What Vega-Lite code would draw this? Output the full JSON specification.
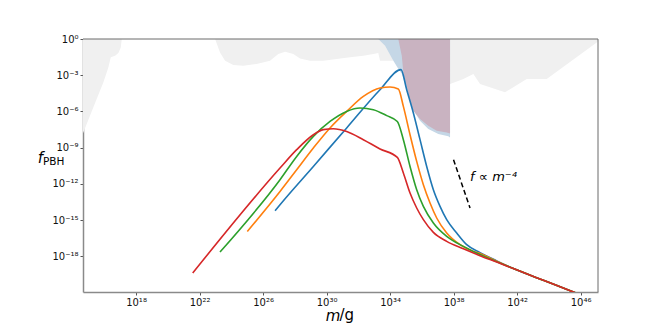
{
  "$schema": "https://vega.github.io/schema/vega-lite/v6.json",
  "width": 515,
  "height": 253,
  "autosize": {"type": "none"},
  "padding": {"left": 83, "top": 39, "right": 67, "bottom": 37},
  "background": "white",
  "config": {
    "font": "DejaVu Sans",
    "view": {"stroke": null},
    "axis": {
      "grid": false,
      "zindex": 1,
      "labelFont": "DejaVu Sans",
      "labelFontSize": 10,
      "labelColor": "#111",
      "domainColor": "#8a8a8a",
      "domainWidth": 1.5,
      "tickColor": "#555",
      "tickSize": 3,
      "labelPadding": 2,
      "titleFont": "DejaVu Sans",
      "titleFontWeight": "normal",
      "titleColor": "#000"
    }
  },
  "datasets": {
    "gray": [
      {"region": "L", "m": 3.548e14, "f": 1e-8},
      {"region": "L", "m": 4.786e14, "f": 1.82e-8},
      {"region": "L", "m": 1.259e15, "f": 4.467e-7},
      {"region": "L", "m": 3.311e15, "f": 1.072e-5},
      {"region": "L", "m": 8.71e15, "f": 2.512e-4},
      {"region": "L", "m": 1.82e16, "f": 4.467e-3},
      {"region": "L", "m": 2.57e16, "f": 0.0302},
      {"region": "L", "m": 4.786e16, "f": 0.04169},
      {"region": "L", "m": 7.762e16, "f": 0.06918},
      {"region": "L", "m": 1.096e17, "f": 0.1995},
      {"region": "L", "m": 1.259e17, "f": 1},
      {"region": "M", "m": 9.55e22, "f": 1},
      {"region": "M", "m": 1.95e23, "f": 0.0776},
      {"region": "M", "m": 4.074e23, "f": 0.01585},
      {"region": "M", "m": 1.349e24, "f": 0.007079},
      {"region": "M", "m": 5.754e24, "f": 0.006166},
      {"region": "M", "m": 3.981e25, "f": 0.008511},
      {"region": "M", "m": 2.754e26, "f": 0.01585},
      {"region": "M", "m": 9.12e26, "f": 0.05754},
      {"region": "M", "m": 2.455e27, "f": 0.08913},
      {"region": "M", "m": 8.128e27, "f": 0.05754},
      {"region": "M", "m": 2.138e28, "f": 0.02455},
      {"region": "M", "m": 9.12e28, "f": 0.01585},
      {"region": "M", "m": 6.31e29, "f": 0.01585},
      {"region": "M", "m": 4.365e30, "f": 0.02188},
      {"region": "M", "m": 3.02e31, "f": 0.0302},
      {"region": "M", "m": 2.089e32, "f": 0.04169},
      {"region": "M", "m": 8.913e32, "f": 0.05754},
      {"region": "M", "m": 1.82e33, "f": 0.06918},
      {"region": "M", "m": 2.344e33, "f": 0.01585},
      {"region": "M", "m": 1.585e34, "f": 0.01585},
      {"region": "R", "m": 3.981e37, "f": 1.862e-4},
      {"region": "R", "m": 6.026e37, "f": 1.862e-4},
      {"region": "R", "m": 4.169e38, "f": 4.898e-4},
      {"region": "R", "m": 1.778e39, "f": 1.259e-3},
      {"region": "R", "m": 4.677e39, "f": 1.862e-4},
      {"region": "R", "m": 1.738e41, "f": 3.802e-5},
      {"region": "R", "m": 4.074e42, "f": 4.898e-4},
      {"region": "R", "m": 7.413e43, "f": 4.898e-4},
      {"region": "R", "m": 1.047e47, "f": 0.5248},
      {"region": "R", "m": 1.585e47, "f": 1}
    ],
    "blue": [
      {"m": 1.82e33, "f": 1},
      {"m": 4.898e33, "f": 0.2754},
      {"m": 1.622e34, "f": 0.01585},
      {"m": 3.311e34, "f": 3.467e-3},
      {"m": 5.495e34, "f": 1.349e-3},
      {"m": 1.122e35, "f": 7.586e-5},
      {"m": 2.344e35, "f": 2.138e-6},
      {"m": 7.762e35, "f": 1.698e-7},
      {"m": 2.57e36, "f": 3.467e-8},
      {"m": 1.096e37, "f": 1.349e-8},
      {"m": 4.677e37, "f": 8.913e-9},
      {"m": 6.026e37, "f": 7.079e-9}
    ],
    "purple": [
      {"m": 3.311e34, "f": 1},
      {"m": 5.495e34, "f": 0.04169},
      {"m": 6.918e34, "f": 1.698e-3},
      {"m": 1.122e35, "f": 1.349e-4},
      {"m": 1.82e35, "f": 7.762e-6},
      {"m": 2.951e35, "f": 1.148e-6},
      {"m": 7.762e35, "f": 2.344e-7},
      {"m": 2.57e36, "f": 6.607e-8},
      {"m": 8.71e36, "f": 2.512e-8},
      {"m": 3.715e37, "f": 1.82e-8},
      {"m": 6.026e37, "f": 1.514e-8}
    ],
    "curves": [
      {"s": "s1", "m": 5.754e26, "f": 5.888e-15},
      {"s": "s1", "m": 1.175e27, "f": 1.862e-14},
      {"s": "s1", "m": 1.479e29, "f": 2.754e-11},
      {"s": "s1", "m": 1.862e31, "f": 4.266e-8},
      {"s": "s1", "m": 2.344e33, "f": 6.31e-5},
      {"s": "s1", "m": 4.898e34, "f": 2.884e-3},
      {"s": "s1", "m": 1.122e35, "f": 6.31e-5},
      {"s": "s1", "m": 2.951e35, "f": 7.413e-7},
      {"s": "s1", "m": 7.762e35, "f": 4.571e-9},
      {"s": "s1", "m": 2.042e36, "f": 2.754e-11},
      {"s": "s1", "m": 5.37e36, "f": 3.236e-13},
      {"s": "s1", "m": 1.413e37, "f": 1.349e-14},
      {"s": "s1", "m": 3.715e37, "f": 1.072e-15},
      {"s": "s1", "m": 1.585e38, "f": 8.511e-17},
      {"s": "s1", "m": 6.761e38, "f": 9.12e-18},
      {"s": "s1", "m": 4.677e39, "f": 1.995e-18},
      {"s": "s1", "m": 5.248e40, "f": 4.169e-19},
      {"s": "s1", "m": 5.888e41, "f": 9.55e-20},
      {"s": "s1", "m": 4.571e43, "f": 1.023e-20},
      {"s": "s1", "m": 3.548e45, "f": 1.096e-21},
      {"s": "s1", "m": 1.995e47, "f": 1.38e-22},
      {"s": "s2", "m": 1.023e25, "f": 1.148e-16},
      {"s": "s2", "m": 1.175e27, "f": 2.344e-13},
      {"s": "s2", "m": 1.318e28, "f": 1.479e-11},
      {"s": "s2", "m": 1.479e29, "f": 9.333e-10},
      {"s": "s2", "m": 1.66e30, "f": 4.266e-8},
      {"s": "s2", "m": 1.862e31, "f": 1e-6},
      {"s": "s2", "m": 2.089e32, "f": 1.738e-5},
      {"s": "s2", "m": 2.344e33, "f": 8.71e-5},
      {"s": "s2", "m": 1e34, "f": 1.047e-4},
      {"s": "s2", "m": 3.311e34, "f": 7.244e-5},
      {"s": "s2", "m": 6.918e34, "f": 2.63e-6},
      {"s": "s2", "m": 1.82e35, "f": 1.175e-8},
      {"s": "s2", "m": 4.786e35, "f": 7.244e-11},
      {"s": "s2", "m": 1.259e36, "f": 8.511e-13},
      {"s": "s2", "m": 3.311e36, "f": 2.57e-14},
      {"s": "s2", "m": 8.71e36, "f": 1.479e-15},
      {"s": "s2", "m": 3.715e37, "f": 8.511e-17},
      {"s": "s2", "m": 2.57e38, "f": 9.12e-18},
      {"s": "s2", "m": 1.778e39, "f": 2.512e-18},
      {"s": "s2", "m": 4.677e39, "f": 1.66e-18},
      {"s": "s2", "m": 5.248e40, "f": 3.802e-19},
      {"s": "s2", "m": 5.888e41, "f": 9.55e-20},
      {"s": "s2", "m": 4.571e43, "f": 1.023e-20},
      {"s": "s2", "m": 3.548e45, "f": 1.096e-21},
      {"s": "s2", "m": 1.995e47, "f": 1.38e-22},
      {"s": "s3", "m": 1.95e23, "f": 2.239e-18},
      {"s": "s3", "m": 1.175e27, "f": 2.188e-12},
      {"s": "s3", "m": 1.318e28, "f": 1.862e-10},
      {"s": "s3", "m": 1.479e29, "f": 8.511e-9},
      {"s": "s3", "m": 1.66e30, "f": 1.479e-7},
      {"s": "s3", "m": 1.862e31, "f": 1e-6},
      {"s": "s3", "m": 1.288e32, "f": 1.905e-6},
      {"s": "s3", "m": 8.913e32, "f": 1.38e-6},
      {"s": "s3", "m": 6.166e33, "f": 4.467e-7},
      {"s": "s3", "m": 2.884e34, "f": 1.479e-7},
      {"s": "s3", "m": 6.918e34, "f": 4.571e-9},
      {"s": "s3", "m": 1.82e35, "f": 2.754e-11},
      {"s": "s3", "m": 4.786e35, "f": 3.236e-13},
      {"s": "s3", "m": 1.259e36, "f": 1.349e-14},
      {"s": "s3", "m": 5.37e36, "f": 5.754e-16},
      {"s": "s3", "m": 3.715e37, "f": 4.467e-17},
      {"s": "s3", "m": 4.169e38, "f": 6.607e-18},
      {"s": "s3", "m": 4.677e39, "f": 1.38e-18},
      {"s": "s3", "m": 5.248e40, "f": 3.548e-19},
      {"s": "s3", "m": 5.888e41, "f": 9.55e-20},
      {"s": "s3", "m": 4.571e43, "f": 1.023e-20},
      {"s": "s3", "m": 3.548e45, "f": 1.096e-21},
      {"s": "s3", "m": 1.995e47, "f": 1.38e-22},
      {"s": "s4", "m": 3.715e21, "f": 4.074e-20},
      {"s": "s4", "m": 1.175e27, "f": 2.042e-11},
      {"s": "s4", "m": 1.318e28, "f": 6.761e-10},
      {"s": "s4", "m": 1.479e29, "f": 1.175e-8},
      {"s": "s4", "m": 6.31e29, "f": 3.09e-8},
      {"s": "s4", "m": 2.692e30, "f": 3.715e-8},
      {"s": "s4", "m": 1.862e31, "f": 2.188e-8},
      {"s": "s4", "m": 2.089e32, "f": 4.571e-9},
      {"s": "s4", "m": 2.344e33, "f": 7.762e-10},
      {"s": "s4", "m": 2.884e34, "f": 1.549e-10},
      {"s": "s4", "m": 6.918e34, "f": 7.943e-12},
      {"s": "s4", "m": 1.82e35, "f": 1.738e-13},
      {"s": "s4", "m": 4.786e35, "f": 1e-14},
      {"s": "s4", "m": 1.259e36, "f": 1.072e-15},
      {"s": "s4", "m": 5.37e36, "f": 9.55e-17},
      {"s": "s4", "m": 3.715e37, "f": 1.698e-17},
      {"s": "s4", "m": 4.169e38, "f": 4.169e-18},
      {"s": "s4", "m": 4.677e39, "f": 1.122e-18},
      {"s": "s4", "m": 5.248e40, "f": 3.311e-19},
      {"s": "s4", "m": 5.888e41, "f": 9.55e-20},
      {"s": "s4", "m": 4.571e43, "f": 1.023e-20},
      {"s": "s4", "m": 3.548e45, "f": 1.096e-21},
      {"s": "s4", "m": 1.995e47, "f": 1.38e-22}
    ],
    "dash": [
      {"m": 1e38, "f": 1e-10},
      {"m": 1.096e39, "f": 1e-14}
    ],
    "texts": [
      {"t": "PBH", "m": 1.38e12, "f": 3.631e-11, "kind": "sub"},
      {"t": "/g", "m": 6.607e30, "f": 5.495e-24, "kind": "unit"}
    ],
    "annot": [
      {"t": "f ∝ m⁻⁴", "m": 1.096e39, "f": 1.82e-12}
    ]
  },
  "layer": [
    {
      "data": {"name": "gray"},
      "mark": {"type": "area", "color": "#f0f0f0", "clip": true},
      "encoding": {
        "x": {
          "field": "m", "type": "quantitative",
          "scale": {"type": "log", "domain": [4.57e14, 1.26e47], "nice": false},
          "axis": {
            "values": [1e18, 1e22, 1e26, 1e30, 1e34, 1e38, 1e42, 1e46],
            "labelExpr": "datum.value < 1e20 ? '10¹⁸' : datum.value < 1e24 ? '10²²' : datum.value < 1e28 ? '10²⁶' : datum.value < 1e32 ? '10³⁰' : datum.value < 1e36 ? '10³⁴' : datum.value < 1e40 ? '10³⁸' : datum.value < 1e44 ? '10⁴²' : '10⁴⁶'",
            "title": "m",
            "titleFontStyle": "italic",
            "titleFontSize": 15,
            "titleX": 249.5,
            "titleY": 28,
            "titleAlign": "center",
            "titleBaseline": "alphabetic"
          }
        },
        "y": {
          "field": "f", "type": "quantitative",
          "scale": {"type": "log", "domain": [1.096e-21, 1], "nice": false},
          "axis": {
            "values": [1, 1e-3, 1e-6, 1e-9, 1e-12, 1e-15, 1e-18],
            "labelExpr": "datum.value < 1e-16 ? '10⁻¹⁸' : datum.value < 1e-13 ? '10⁻¹⁵' : datum.value < 1e-10 ? '10⁻¹²' : datum.value < 1e-7 ? '10⁻⁹' : datum.value < 1e-4 ? '10⁻⁶' : datum.value < 0.1 ? '10⁻³' : '10⁰'",
            "title": "f",
            "titleFontStyle": "italic",
            "titleFontSize": 15,
            "titleAngle": 0,
            "titleX": -43,
            "titleY": 123,
            "titleAlign": "center",
            "titleBaseline": "alphabetic"
          }
        },
        "y2": {"datum": 1},
        "detail": {"field": "region"}
      }
    },
    {
      "data": {"name": "blue"},
      "mark": {"type": "area", "color": "#c5d7e6", "clip": true},
      "encoding": {
        "x": {"field": "m", "type": "quantitative"},
        "y": {"field": "f", "type": "quantitative"},
        "y2": {"datum": 1}
      }
    },
    {
      "data": {"name": "purple"},
      "mark": {"type": "area", "color": "#c9b3c1", "clip": true},
      "encoding": {
        "x": {"field": "m", "type": "quantitative"},
        "y": {"field": "f", "type": "quantitative"},
        "y2": {"datum": 1}
      }
    },
    {
      "data": {"name": "curves"},
      "mark": {"type": "line", "strokeWidth": 1.6, "interpolate": "monotone", "clip": true},
      "encoding": {
        "x": {"field": "m", "type": "quantitative"},
        "y": {"field": "f", "type": "quantitative"},
        "color": {
          "field": "s", "type": "nominal",
          "scale": {"domain": ["s1", "s2", "s3", "s4"], "range": ["#1f77b4", "#ff7f0e", "#2ca02c", "#d62728"]},
          "legend": null
        }
      }
    },
    {
      "data": {"name": "dash"},
      "mark": {"type": "line", "color": "#000", "strokeWidth": 1.5, "strokeDash": [5, 3]},
      "encoding": {
        "x": {"field": "m", "type": "quantitative"},
        "y": {"field": "f", "type": "quantitative"}
      }
    },
    {
      "data": {"values": [{"edge": "top"}]},
      "mark": {"type": "rule", "color": "#6a6a6a", "strokeWidth": 1},
      "encoding": {"y": {"datum": 1}}
    },
    {
      "data": {"values": [{"edge": "right"}]},
      "mark": {"type": "rule", "color": "#6a6a6a", "strokeWidth": 1},
      "encoding": {"x": {"datum": 1.26e47}}
    },
    {
      "data": {"name": "texts"},
      "mark": {"type": "text", "align": "left", "baseline": "alphabetic", "color": "#000", "font": "DejaVu Sans"},
      "encoding": {
        "x": {"field": "m", "type": "quantitative"},
        "y": {"field": "f", "type": "quantitative"},
        "text": {"field": "t"},
        "size": {"field": "kind", "type": "nominal", "scale": {"domain": ["sub", "unit"], "range": [10.5, 15]}, "legend": null}
      }
    },
    {
      "data": {"name": "annot"},
      "mark": {"type": "text", "align": "left", "baseline": "alphabetic", "fontSize": 13, "fontStyle": "italic", "color": "#000", "font": "DejaVu Sans"},
      "encoding": {
        "x": {"field": "m", "type": "quantitative"},
        "y": {"field": "f", "type": "quantitative"},
        "text": {"field": "t"}
      }
    }
  ]
}
